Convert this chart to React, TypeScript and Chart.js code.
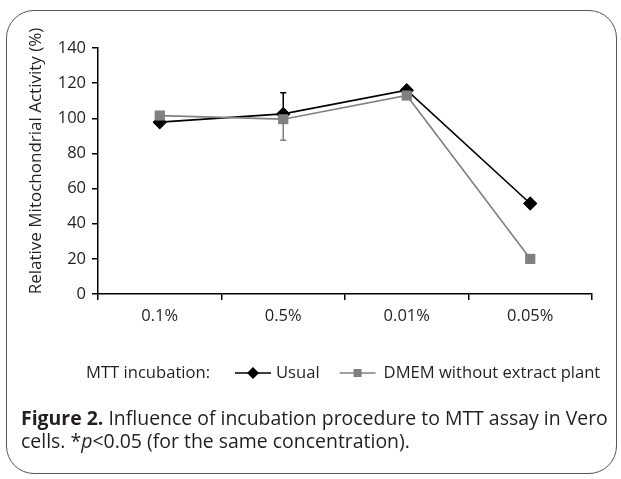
import React, { useEffect, useRef } from "react";
import { Chart, registerables } from "chart.js";

Chart.register(...registerables);

const categories = ["0.1%", "0.5%", "0.01%", "0.05%"];
const usualValues = [97.8, 102.5, 116, 51.5];
const dmemValues = [101.5, 99.5, 113, 20];
const usualErrUp = [0, 12, 0, 0];
const dmemErrDown = [0, 12, 0, 0];
const yMin = 0;
const yMax = 140;
const yStep = 20;
const seriesLabels = ["Usual", "DMEM without extract plant"];
const legendTitle = "MTT incubation:";
const yAxisTitle = "Relative Mitochondrial Activity (%)";
const captionBold = "Figure 2.";
const captionRest1 = " Influence of incubation procedure to MTT assay in Vero";
const captionRest2a = "cells. *";
const captionItalic = "p";
const captionRest2b = "<0.05 (for the same concentration).";

const FONT = "'Open Sans', 'Noto Sans', sans-serif";
const TEXT = "#231f20";
const BLACK = "#000000";
const GRAY = "#808080";

const errorBarPlugin = {
  id: "errorBars",
  afterDatasetsDraw(chart: any) {
    const ctx = chart.ctx;
    const y = chart.scales.y;
    const specs = [
      { idx: 0, errs: usualErrUp, dir: 1, color: BLACK },
      { idx: 1, errs: dmemErrDown, dir: -1, color: GRAY },
    ];
    ctx.save();
    specs.forEach((s) => {
      const meta = chart.getDatasetMeta(s.idx);
      const vals = chart.data.datasets[s.idx].data as number[];
      meta.data.forEach((pt: any, i: number) => {
        const e = s.errs[i];
        if (!e) return;
        const y0 = y.getPixelForValue(vals[i]);
        const y1 = y.getPixelForValue(vals[i] + s.dir * e);
        ctx.strokeStyle = s.color;
        ctx.lineWidth = 1.5;
        ctx.beginPath();
        ctx.moveTo(pt.x, y0);
        ctx.lineTo(pt.x, y1);
        ctx.moveTo(pt.x - 3, y1);
        ctx.lineTo(pt.x + 3, y1);
        ctx.stroke();
      });
    });
    ctx.restore();
    [0, 1].forEach((idx) => {
      const meta = chart.getDatasetMeta(idx);
      meta.data.forEach((pt: any) => pt.draw(ctx, chart.chartArea));
    });
  },
};

const decorPlugin = {
  id: "decor",
  afterDraw(chart: any) {
    const ctx = chart.ctx;
    const area = chart.chartArea;
    ctx.save();
    ctx.fillStyle = TEXT;
    ctx.font = `17px ${FONT}`;
    ctx.textAlign = "center";
    ctx.textBaseline = "middle";
    ctx.translate(36, (area.top + area.bottom) / 2 - 10);
    ctx.rotate(-Math.PI / 2);
    ctx.fillText(yAxisTitle, 0, 0);
    ctx.restore();

    ctx.save();
    ctx.font = `16.6px ${FONT}`;
    ctx.fillStyle = TEXT;
    ctx.textBaseline = "middle";
    ctx.textAlign = "left";
    const ly = 373;
    let x = 86;
    ctx.fillText(legendTitle, x, ly);
    x += ctx.measureText(legendTitle).width + 25;
    const ds = chart.data.datasets;
    const items = [
      { label: ds[0].label, color: BLACK, style: "rectRot", gapAfter: 5 },
      { label: ds[1].label, color: GRAY, style: "rect", gapAfter: 8 },
    ];
    items.forEach((it, k) => {
      const symW = 36;
      ctx.strokeStyle = it.color;
      ctx.lineWidth = 1.5;
      ctx.beginPath();
      ctx.moveTo(x, ly);
      ctx.lineTo(x + symW, ly);
      ctx.stroke();
      ctx.fillStyle = it.color;
      const cx = x + symW / 2;
      ctx.beginPath();
      if (it.style === "rectRot") {
        const r = 6;
        ctx.moveTo(cx, ly - r);
        ctx.lineTo(cx + r, ly);
        ctx.lineTo(cx, ly + r);
        ctx.lineTo(cx - r, ly);
        ctx.closePath();
      } else {
        const h = 4;
        ctx.rect(cx - h, ly - h, 2 * h, 2 * h);
      }
      ctx.fill();
      x += symW + it.gapAfter;
      ctx.fillStyle = TEXT;
      ctx.fillText(it.label, x, ly);
      x += ctx.measureText(it.label).width + (k === 0 ? 20 : 0);
    });
    ctx.restore();
  },
};

export default function App() {
  const ref = useRef<HTMLCanvasElement | null>(null);

  useEffect(() => {
    if (!ref.current) return;
    const chart = new Chart(ref.current, {
      type: "line",
      data: {
        labels: categories,
        datasets: [
          {
            label: seriesLabels[0],
            data: usualValues,
            borderColor: BLACK,
            backgroundColor: BLACK,
            borderWidth: 1.6,
            pointStyle: "rectRot",
            pointRadius: 7,
            pointBorderWidth: 0,
            pointBackgroundColor: BLACK,
            tension: 0,
            order: 2,
          },
          {
            label: seriesLabels[1],
            data: dmemValues,
            borderColor: GRAY,
            backgroundColor: GRAY,
            borderWidth: 1.6,
            pointStyle: "rect",
            pointRadius: 7,
            pointBorderWidth: 0,
            pointBackgroundColor: GRAY,
            tension: 0,
            order: 1,
          },
        ],
      },
      options: {
        animation: false,
        responsive: false,
        maintainAspectRatio: false,
        devicePixelRatio: 1,
        layout: { padding: { left: 0, right: 29, top: 48, bottom: 106 } },
        plugins: {
          legend: { display: false },
          tooltip: { enabled: false },
          title: { display: false },
        },
        scales: {
          x: {
            type: "category",
            offset: true,
            grid: {
              offset: true,
              drawOnChartArea: false,
              drawTicks: true,
              tickLength: 6,
              color: BLACK,
              lineWidth: 1.5,
            },
            border: { display: true, color: BLACK, width: 1.5 },
            ticks: {
              color: TEXT,
              font: { family: FONT, size: 16.5 },
              padding: 6,
              maxRotation: 0,
            },
            afterFit: (s: any) => {
              s.height = 40;
            },
          },
          y: {
            min: yMin,
            max: yMax,
            ticks: {
              stepSize: yStep,
              color: TEXT,
              font: { family: FONT, size: 16.5 },
              padding: 6,
            },
            grid: {
              drawOnChartArea: false,
              drawTicks: true,
              tickLength: 6,
              color: BLACK,
              lineWidth: 1.5,
            },
            border: { display: true, color: BLACK, width: 1.5 },
            afterFit: (s: any) => {
              s.width = 98;
            },
          },
        },
      },
      plugins: [errorBarPlugin, decorPlugin],
    });
    return () => chart.destroy();
  }, []);

  return (
    <div
      style={{
        position: "fixed",
        left: 0,
        top: 0,
        width: 621,
        height: 479,
        background: "#ffffff",
        overflow: "hidden",
      }}
    >
      <div
        style={{
          position: "absolute",
          left: 6,
          top: 10,
          width: 611,
          height: 464,
          border: "1.5px solid #555555",
          borderRadius: 28,
          boxSizing: "border-box",
        }}
      />
      <canvas
        ref={ref}
        width={621}
        height={440}
        style={{ position: "absolute", left: 0, top: 0, width: 621, height: 440 }}
      />
      <div
        style={{
          position: "absolute",
          left: 21,
          top: 406,
          width: 600,
          fontFamily: FONT,
          fontSize: 19.45,
          lineHeight: "23px",
          color: TEXT,
          whiteSpace: "nowrap",
        }}
      >
        <div>
          <b>{captionBold}</b>
          {captionRest1}
        </div>
        <div>
          {captionRest2a}
          <i>{captionItalic}</i>
          {captionRest2b}
        </div>
      </div>
    </div>
  );
}
